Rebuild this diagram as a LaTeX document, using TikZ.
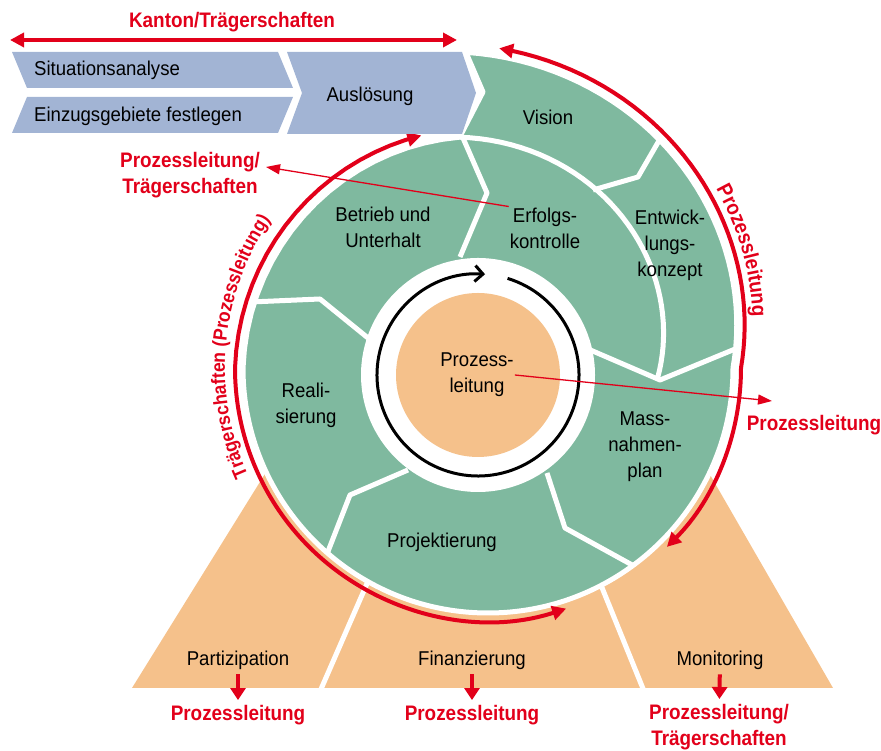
\documentclass[tikz,border=0pt]{standalone}
\usepackage{fontspec}
\setmainfont{Liberation Sans}[FakeStretch=0.93]
\newfontfamily\redfamily{Liberation Sans}[FakeStretch=0.9]
\usetikzlibrary{arrows.meta,decorations.text}

\definecolor{ringgreen}{RGB}{127,185,159}
\definecolor{fanorange}{RGB}{245,193,139}
\definecolor{rowblue}{RGB}{162,180,212}
\definecolor{leadred}{RGB}{226,0,26}

\tikzset{every picture/.style={line width=0.75pt},
  phase/.style={font=\fontsize{20}{26}\selectfont, align=center, inner sep=0.75pt},
  lead/.style={font=\redfamily\bfseries\fontsize{21}{26}\selectfont, text=leadred, align=center, inner sep=0.75pt},
  gap/.style={white, line width=5pt, line join=round},
  leadarc/.style={leadred, line width=4pt, {Triangle[length=14pt,width=14pt]}-{Triangle[length=14pt,width=14pt]}},
  pointer/.style={leadred, line width=1.3pt, -{Triangle[length=14pt,width=10pt]}},
  downarrow/.style={leadred, line width=4pt, -{Triangle[length=12pt,width=15pt]}, shorten <=4pt, shorten >=4pt},
}

\begin{document}
\begin{tikzpicture}[x=1pt,y=1pt]
\useasboundingbox (0,0) rectangle (881,751);

%Fan below the ring
\fill[fanorange] (132,63) -- (833,63) -- (690,311) -- (286,311) -- cycle;
\draw[gap] (318,55) -- (376,188);
\draw[gap] (646,55) -- (592,188);

\begin{scope}[shift={(488,383)}]
%Spiral band
\path[fill=ringgreen, draw=white, line width=5pt, line join=round]
  plot[domain=94:0, samples=40] (\x:{245+0.76*\x})
  arc[start angle=0, end angle=-180, radius=245]
  -- plot[domain=-180:-263, samples=20] (\x:{245+0.15*(180+\x)})
  -- (-5,276) -- cycle;
%Inner turn of the spiral
\draw[gap] plot[domain=97:-3.4, samples=40] (\x:{172+0.624*\x});
%Phase borders
\draw[gap] (105,178) -- (150,191) -- (176,236);
\draw[gap] (100,19) -- (172,-12) -- (252,21);
\draw[gap] (59,-105) -- (77,-160) -- (146,-198);
\draw[gap] (-80,-102) -- (-138,-127) -- (-161,-186);
\draw[gap] (-237,66) -- (-168,69) -- (-120,30);
\draw[gap] (-25,230) -- (-1,175) -- (-28,111);

%Centre
\fill[white] (-10,-7) circle[radius=117];
\draw[line width=3pt, -{Straight Barb[length=8pt,width=16pt]}]
  (-10,-7) ++(73:101) arc[start angle=73, end angle=-274, radius=101];
\fill[fanorange] (-10,-7) circle[radius=82];

%Red arcs
\draw[leadarc] plot[domain=88:0, samples=40] (\x:{253+0.76*\x})
  arc[start angle=0, end angle=-45, radius=253];
\draw[leadarc] (-72:253) arc[start angle=-72, end angle=-180, radius=253]
  -- plot[domain=-180:-254, samples=20] (\x:{253+0.15*(180+\x)});
\path[decorate, decoration={text along path, text align=center, text color=leadred,
  text={|\redfamily\bfseries\fontsize{21}{21}\selectfont|Prozessleitung}}]
  plot[domain=48:0, samples=40] (\x:{261+0.76*\x});
\path[decorate, decoration={text along path, text align=center, text color=leadred,
  text={|\redfamily\bfseries\fontsize{19.5}{20}\selectfont|Trägerschaften (Prozessleitung)}}]
  (213:263) arc[start angle=213, end angle=137, radius=263];
\end{scope}

%Blue row
\fill[rowblue] (12,699) -- (278,699) -- (293,663) -- (27,663) -- cycle;
\fill[rowblue] (27,654) -- (293,654) -- (278,618) -- (12,618) -- cycle;
\fill[rowblue] (287,699) -- (462,699) -- (476,658) -- (462,617) -- (287,617) -- (302,658) -- cycle;

\coordinate (kantonL) at (10,711);
\coordinate (kantonR) at (457,711);
\draw[leadarc] (kantonL) -- (kantonR);

% Text Node
\node[lead] (kanton) at (232,729) {Kanton/Trägerschaften};
\node[phase, anchor=west] (situation) at (33,681) {Situationsanalyse};
\node[phase, anchor=west] (einzug) at (33,635) {Einzugsgebiete festlegen};
\node[phase] (ausloesung) at (370,655) {Auslösung};

\node[phase] (vision) at (548,634) {Vision};
\node[phase] (erfolg) at (545,523) {Erfolgs-\\kontrolle};
\node[phase] (entwicklung) at (670,506) {Entwick-\\lungs-\\konzept};
\node[phase] (betrieb) at (383,524) {Betrieb und\\Unterhalt};
\node[phase] (realisierung) at (306,346) {Reali-\\sierung};
\node[phase] (projekt) at (442,209) {Projektierung};
\node[phase] (massnahmen) at (645,304) {Mass-\\nahmen-\\plan};
\node[phase] (prozess) at (477,376) {Prozess-\\leitung};

\node[lead] (leadtraeger) at (190,576) {Prozessleitung/\\Trägerschaften};
\node[lead] (leadright) at (814,326) {Prozessleitung};
\coordinate (tipA) at (266,584);
\coordinate (tipB) at (772,350);
\draw[pointer] (erfolg.north west) -- (tipA);
\draw[pointer] (prozess.east) -- (tipB);

\node[phase] (partizipation) at (238,91) {Partizipation};
\node[phase] (finanz) at (472,91) {Finanzierung};
\node[phase] (monitor) at (720,91) {Monitoring};
\node[lead] (leadpart) at (238,36) {Prozessleitung};
\node[lead] (leadfinanz) at (472,36) {Prozessleitung};
\node[lead] (leadmonitor) at (719,24) {Prozessleitung/\\Trägerschaften};
\draw[downarrow] (partizipation) -- (leadpart);
\draw[downarrow] (finanz) -- (leadfinanz);
\draw[downarrow] (monitor) -- (leadmonitor);

\end{tikzpicture}
\end{document}
